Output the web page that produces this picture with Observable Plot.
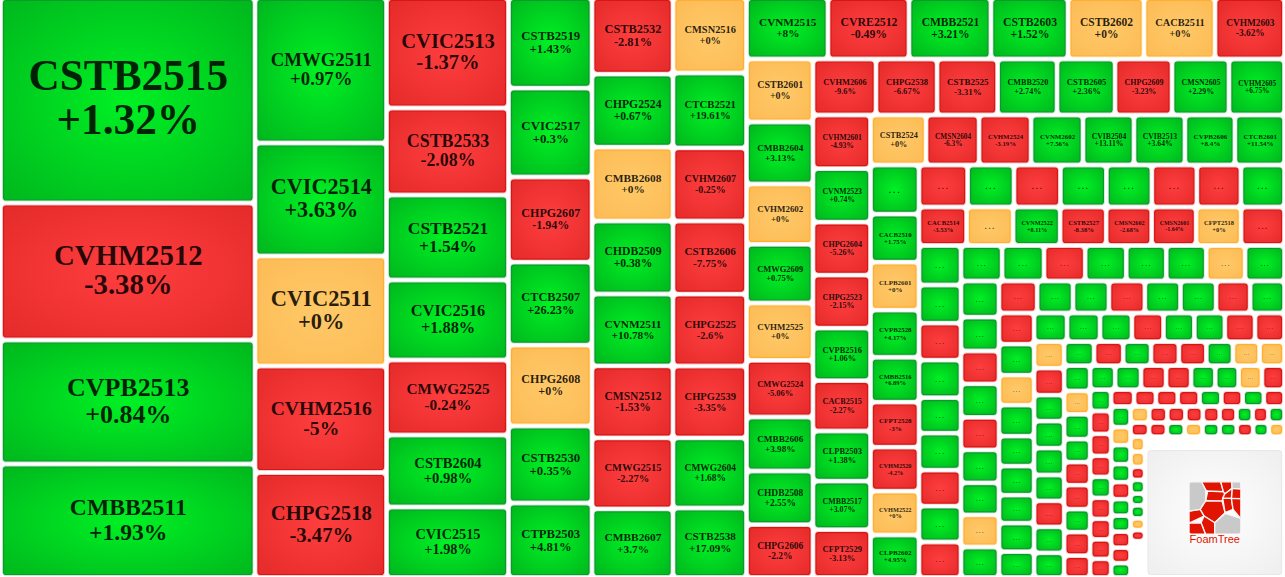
<!DOCTYPE html>
<html><head><meta charset="utf-8">
<style>
html,body{margin:0;padding:0;background:#fff;overflow:hidden}
.dots text{letter-spacing:.25em}
</style>
<script src="https://cdn.jsdelivr.net/npm/d3@7"></script>
<script src="https://cdn.jsdelivr.net/npm/@observablehq/plot@0.6"></script>
</head><body><div id="chart"></div>
<script>
// Labels.
const tickers = [
"CSTB2515","CVHM2512","CVPB2513","CMBB2511",
"CMWG2511","CVIC2514","CVIC2511","CVHM2516","CHPG2518",
"CVIC2513","CSTB2533","CSTB2521","CVIC2516","CMWG2525","CSTB2604","CVIC2515",
"CSTB2519","CVIC2517","CHPG2607","CTCB2507","CHPG2608","CSTB2530","CTPB2503",
"CSTB2532","CHPG2524","CMBB2608","CHDB2509","CVNM2511","CMSN2512","CMWG2515","CMBB2607",
"CMSN2516","CTCB2521","CVHM2607","CSTB2606","CHPG2525","CHPG2539","CMWG2604","CSTB2538",
"CVNM2515","CVRE2512","CMBB2521","CSTB2603","CSTB2602","CACB2511","CVHM2603",
"CSTB2601","CMBB2604","CVHM2602","CMWG2609","CVHM2525","CMWG2524","CMBB2606","CHDB2508","CHPG2606",
"CVHM2606","CHPG2538","CSTB2525","CMBB2520","CSTB2605","CHPG2609","CMSN2605","CVHM2605",
"CVHM2601","CVNM2523","CHPG2604","CHPG2523","CVPB2516","CACB2515","CLPB2503","CMBB2517","CFPT2529",
"CSTB2524","CMSN2604","CVHM2524","CVNM2602","CVIB2504","CVIB2513","CVPB2606","CTCB2601",
"...","CACB2510","CLPB2601","CVPB2528","CMBB2516","CFPT2528","CVHM2520","CVHM2522","CLPB2602",
"...","...","...","...","...","...","...","...",
"CACB2514","...","CVNM2522","CSTB2527","CMSN2602","CMSN2601","CFPT2518","..."
];
const changes = [
1.32,-3.38,0.84,1.93,
0.97,3.63,0,-5,-3.47,
-1.37,-2.08,1.54,1.88,-0.24,0.98,1.98,
1.43,0.3,-1.94,26.23,0,0.35,4.81,
-2.81,0.67,0,0.38,10.78,-1.53,-2.27,3.7,
0,19.61,-0.25,-7.75,-2.6,-3.35,1.68,17.09,
8,-0.49,3.21,1.52,0,0,-3.62,
0,3.13,0,0.75,0,-5.06,3.98,2.55,-2.2,
-9.6,-6.67,-3.31,2.74,2.36,-3.23,2.29,6.75,
-4.93,0.74,-5.26,-2.15,1.06,-2.27,1.38,3.07,-3.13,
0,-6.3,-3.19,7.56,13.11,3.64,8.4,11.54,
1,1.75,0,4.17,6.89,-3,-4.2,0,4.95,
-1,1,-1,1,1,-1,-1,1,
-3.53,0,8.11,-8.38,-2.68,-1.64,0,-1
];
// Direction only (up +1, down -1, flat 0) of the remaining cells, whose labels the reference hides as "..."
const hiddenSigns = [
1,1,-1,1,1,1,-1,1,-1,
1,1,-1,1,1,1,0,1,
1,1,-1,1,-1,1,1,0,1,
-1,1,1,-1,1,1,-1,1,
-1,1,0,1,1,1,1,1,1,
1,1,1,-1,1,1,-1,-1,
0,-1,1,1,1,1,-1,1,1,
1,-1,1,-1,-1,1,0,0,
1,0,1,1,-1,-1,1,-1,-1,
1,1,-1,-1,1,1,0,-1,
1,-1,-1,-1,1,-1,-1,-1,-1,
-1,-1,-1,-1,1,-1,1,-1,
1,0,1,1,-1,1,1,-1,-1,1,
0,-1,-1,-1,-1,-1,1,-1,1,
-1,-1,1,0,1,1,-1,1,0,
0,0,-1,1,1,1,0,-1
];
// Cell weights (relative size of each issue).
// The last three are the empty gaps and the badge corner of the map.
const weights = [
523,348.7,315.6,288.9,
191.3,148.6,144.7,140,138.1,
134.8,106.1,103.7,97.6,91.5,87.8,86,
75.6,74.3,71,69.3,67.6,64.3,62.2,
62,59.1,59.9,59.1,58.3,58.3,57.5,55.5,
55.5,55.1,53.7,53.7,52.9,52.9,51.5,51.1,
50.1,49.8,50.4,47.4,46.7,43.7,42.7,
41.9,41.2,40.2,38.9,38.2,37.6,35.9,35.6,35.2,
35.3,34.2,33.9,33.3,32.5,31.9,31.9,31.1,
30.8,30.8,30.5,30.5,30.2,29,28.8,27.9,27.6,
27.8,26.5,26,26,25.5,25.5,25,24.8,
23.8,23.3,23.3,22.8,21.8,21.8,21.3,21.3,20.6,
20.4,19.5,19.5,19.3,19.1,18.9,18.5,18.3,
18.3,17.9,18.1,17.7,17.5,17.1,17.3,16.7,
16.6,16,15.5,15.8,14.9,15.5,15.1,15.1,14.9,
14.6,14.9,14.6,14.6,14.2,14.2,13.8,14,
13.7,12.9,12.5,12.7,12.4,12.5,12.2,12.2,11.6,
12.2,11.5,11.5,11.5,11.4,11.4,10.9,11,
10.9,10.9,10.5,10.9,10.5,10.2,9.8,10,9.1,
9.4,9.4,9.1,9,8.8,8.7,8.6,8.4,
8,8.1,7.8,8.1,8.1,7.8,7.8,7.8,7.4,
7.2,7,6.7,6.7,6.6,6.4,6.4,6,
6.6,6.1,6.4,6,6,6.2,6,6.1,5.7,
6,6.2,6,6,5.8,5.6,5.6,5.4,
4.5,4.8,4.6,4.4,4.4,4.4,4.3,4.1,3.9,
3.9,3.7,3.7,3.7,3.7,3.6,3.6,3.5,
4,3.5,3.7,3.5,3.3,3.2,3.1,3.1,3,2.8,
3,2.9,2.9,2.8,2.7,2.7,2.6,2.5,2.6,
2.6,2.5,2.5,2.5,2.4,2.4,2.3,2.2,2.2,
2.2,2.2,1.9,2,1.7,1.9,1.7,1.6,5.3,
15.3,
181.4
];
// How the weights group into strips: "v" = a column of stacked cells, "h" = a row of cells
const stripKinds = "vvvvvvhvhvhvhhvhvhvhvhvhvhvhhvhv".split("");
const stripCounts = [4,5,7,7,8,8,7,9,8,9,8,9,8,8,9,8,9,8,9,8,9,8,9,8,9,8,10,9,9,9,1,1];

// ---- assemble cells
const rows = [];
{
  let hiddenIndex = 0;
  weights.forEach((w, i) => {
    const fromEnd = weights.length - 1 - i;
    if (fromEnd <= 2) rows.push({w, name: "", change: null});
    else if (i < tickers.length) rows.push({w, name: tickers[i], change: changes[i]});
    else rows.push({w, name: "...", change: hiddenSigns[hiddenIndex++]});
  });
}
// ---- strip layout through the weights
const region = {x0: 0.5, x1: 1284.5, y0: -2.5, y1: 577.5};
const unit = 100;
const cells = [];
{
  let k = 0, {x0, x1, y0, y1} = region;
  stripKinds.forEach((kind, s) => {
    const part = rows.slice(k, k + stripCounts[s]); k += stripCounts[s];
    const sum = d3.sum(part, d => d.w) * unit;
    if (kind === "v") {
      const t = sum / (y1 - y0); let y = y0;
      for (const d of part) { const h = d.w * unit / t; cells.push({...d, x1: x0, x2: x0 + t, y1: y, y2: y + h}); y += h; }
      x0 += t;
    } else {
      const t = sum / (x1 - x0); let x = x0;
      for (const d of part) { const w = d.w * unit / t; cells.push({...d, x1: x, x2: x + w, y1: y0, y2: y0 + t}); x += w; }
      y0 += t;
    }
  });
}
const trendOf = d => d.change > 0 ? "up" : d.change < 0 ? "down" : "flat";
const drawn = cells.filter(d => d.change !== null);
const logoCell = cells[cells.length - 1];

// ---- label fitting
const ctx = document.createElement("canvas").getContext("2d");
ctx.font = "bold 100px 'Liberation Serif'";
const emOf = s => ctx.measureText(s).width / 100;
const fontFor = d => {
  const w = d.x2 - d.x1 - 5, h = d.y2 - d.y1 - 5;
  if (d.name === "...") return Math.max(1.5, Math.sqrt(w * h) * 0.2);
  return Math.min((w >= 100 ? 0.8 : 0.75) * w / emOf(d.name), 0.218 * h);
};
const pct = v => (v >= 0 ? "+" : "") + v + "%";
const labelOf = d => d.name + "\n" + pct(d.change);

const palette = {
  up:   {center: "#00f124", edge: "#00b61d", line: "#0b9a2c"},
  down: {center: "#ff3e3e", edge: "#e42a2a", line: "#d91515"},
  flat: {center: "#ffc968", edge: "#fcbb55", line: "#ffb030"}
};
const defsMark = () => {
  const g = d3.create("svg:g");
  const stops = (id, a, b) => `<radialGradient id="${id}" cx=".5" cy=".5" r=".72"><stop offset="0" stop-color="${a}"/><stop offset="1" stop-color="${b}"/></radialGradient>`;
  g.html("<defs>" + Object.entries(palette).map(([k, p]) => stops("cell-" + k, p.center, p.edge)).join("") + stops("cell-logo", "#ffffff", "#eeeeee")
    + `<clipPath id="badge-clip"><rect x="147" y="125" width="155" height="157" rx="12"/></clipPath></defs>`);
  return g.node();
};
// FoamTree badge, decoration, in its own 3x design units
const badgeRed = [
"184,125 242,125 250,155 203,153 197,150","242,125 275,125 276,145 254,162 250,155","276,145 302,146 302,176 274,175",
"203,153 250,155 254,162 248,175 246,183 197,182","254,162 276,145 274,175 248,175","197,182 246,183 255,218 224,248 192,228 180,208",
"248,175 274,175 279,208 255,218","274,175 302,176 302,235 279,208","147,213 180,208 192,228 152,247 147,247",
"192,228 224,248 224,282 196,282 183,248","147,249 183,248 196,282 147,282"];
const badgeGrey = ["147,125 184,125 197,150 197,182 180,208 147,213","275,125 302,125 302,146 276,145","224,248 255,220 302,235 302,282 224,282"];
const badgeMark = (index, scales) => {
  const g = d3.create("svg:g").attr("transform", `translate(${scales.x(logoCell.x1) - 5},${scales.y(logoCell.y1) - 7.5}) scale(${1/3})`);
  const shapes = g.append("g").attr("clip-path", "url(#badge-clip)").attr("stroke", "#f7f7f7").attr("stroke-width", 4).attr("stroke-linejoin", "round");
  for (const [list, color] of [[badgeRed, "#e01400"], [badgeGrey, "#c9c9c9"]])
    for (const pts of list) shapes.append("polygon").attr("points", pts).attr("fill", color);
  g.append("text").attr("x", 224).attr("y", 310).attr("text-anchor", "middle").attr("font-family", "Liberation Sans").attr("font-size", 33).attr("fill", "#e01400").text("FoamTree");
  return g.node();
};

const box = {x1: "x1", x2: "x2", y1: "y1", y2: "y2"};
const trendMarks = Object.keys(palette).flatMap(t => {
  const sub = drawn.filter(d => trendOf(d) === t);
  return [
    Plot.rect(sub, {...box, inset: 1.6, rx: 3.5, fill: palette[t].line, fillOpacity: 0.22}),
    Plot.rect(sub, {...box, inset: 3, rx: 2.5, fill: `url(#cell-${t})`, stroke: palette[t].line, strokeWidth: 1.2})
  ];
});
const chart = Plot.plot({
  width: 1285, height: 577, margin: 0,
  x: {domain: [0, 1285], range: [0, 1285], axis: null},
  y: {domain: [0, 577], range: [0, 577], axis: null},
  style: {background: "#fff"},
  marks: [
    defsMark,
    ...trendMarks,
    Plot.rect([logoCell], {...box, inset: 3, rx: 2.5, fill: "url(#cell-logo)", stroke: "#e6e6e6"}),
    badgeMark,
    Plot.text(drawn.filter(d => d.name !== "..."), {
      x: d => (d.x1 + d.x2) / 2, y: d => (d.y1 + d.y2) / 2 - 0.07 * fontFor(d), text: labelOf,
      fontFamily: "Liberation Serif", fontWeight: "bold", fontSize: fontFor, lineHeight: 1.03,
      fill: "#000", fillOpacity: 0.85, textAnchor: "middle", lineAnchor: "middle"
    }),
    Plot.text(drawn.filter(d => d.name === "..."), {
      x: d => (d.x1 + d.x2) / 2, y: d => (d.y1 + d.y2) / 2, text: "name",
      fontFamily: "Liberation Serif", fontWeight: "bold", fontSize: fontFor,
      fill: "#000", fillOpacity: 0.75, textAnchor: "middle", lineAnchor: "middle", className: "dots"
    })
  ]
});
document.getElementById("chart").appendChild(chart);
</script></body></html>
